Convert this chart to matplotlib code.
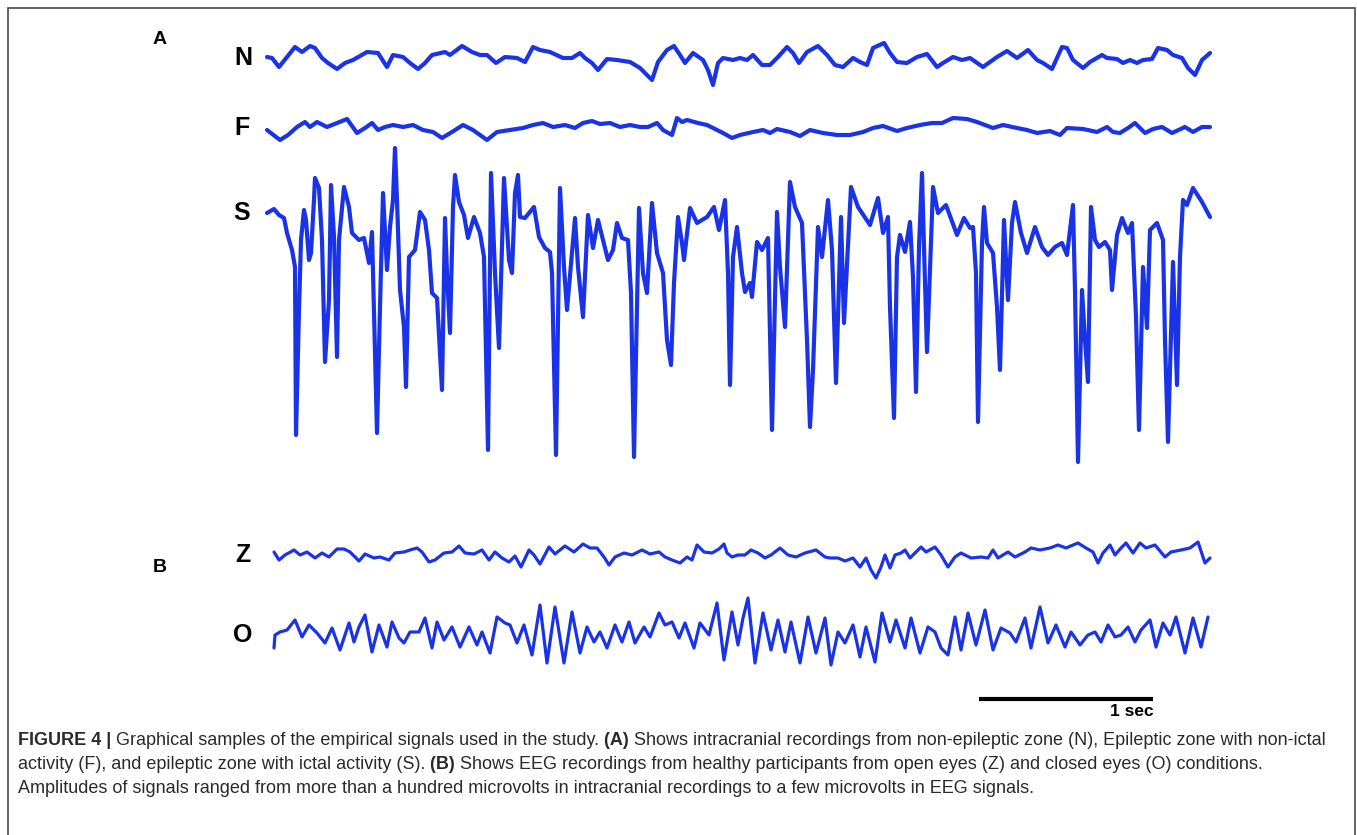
import numpy as np
import matplotlib.pyplot as plt

# Bonn EEG samples, fs = 173.61 Hz; sample index and amplitude (a.u.)
fs = 173.61

n_N = [0, 5, 12, 20, 28, 35, 43, 48, 55, 61, 70, 78, 86, 100, 111, 120, 126, 136, 143, 151,
       158, 165, 178, 183, 195, 205, 213, 220, 229, 238, 250, 258, 266, 273, 283, 296, 305, 313,
       318, 325, 331, 340, 350, 363, 373, 385, 391, 400, 407, 413, 418, 426, 436, 441, 446, 451,
       456, 466, 473, 480, 486, 495, 503, 511, 520, 526, 532, 540, 551, 560, 568, 576, 586, 593,
       600, 606, 617, 623, 630, 640, 650, 660, 670, 676, 686, 695, 703, 716, 730, 740, 750, 761,
       770, 776, 785, 795, 800, 806, 816, 823, 835, 840, 850, 856, 863, 870, 876, 885, 891, 900,
       906, 915, 921, 928, 935, 943]
a_N = [1, 0, -9, 1, 11, 6, 12, 10, 0, -5, -11, -5, -2, 6, 5, -9, 3, 1, -5, -11,
       -5, 3, 6, 3, 12, 6, 3, 3, -5, 1, 0, -4, 11, 8, 6, 0, 0, 5,
       0, -5, -12, -1, -2, -4, -10, -22, -4, 8, 12, 3, -5, 5, -2, -12, -27, -5,
       0, -2, 0, -2, 3, -7, -7, 1, 11, 5, -5, 6, 12, 3, -7, -9, 0, -4,
       -7, 10, 15, 5, -4, -5, 1, 4, -9, -5, 1, -2, 0, -9, 1, 7, 0, 8,
       -2, -5, -11, 11, 10, -2, -10, -4, 3, 0, -1, -5, -2, -5, -2, -1, 10, 8,
       3, 0, -10, -17, -2, 5]

n_F = [0, 13, 21, 30, 38, 43, 50, 60, 70, 80, 90, 98, 105, 111, 118, 126, 136, 146, 156, 166,
       175, 185, 196, 206, 220, 230, 243, 256, 266, 276, 286, 298, 308, 316, 325, 333, 343, 353,
       363, 373, 381, 390, 396, 405, 410, 415, 420, 431, 440, 450, 456, 465, 473, 486, 496, 503,
       510, 523, 533, 543, 556, 570, 583, 596, 606, 616, 630, 640, 653, 665, 675, 686, 700, 710,
       726, 736, 750, 760, 770, 783, 793, 800, 816, 830, 840, 846, 853, 861, 868, 878, 886, 895,
       905, 918, 926, 935, 943]
a_F = [-2, -12, -7, 1, 6, 1, 6, 1, 5, 9, -5, 0, 5, -2, 1, 3, 1, 3, -2, -4,
       -10, -4, 3, -2, -12, -4, -2, 0, 3, 5, 1, 3, 0, 5, 7, 4, 5, 1,
       3, 1, 1, 5, -2, -7, 10, 6, 8, 5, 3, -2, -5, -10, -7, -4, -2, -5,
       -1, -4, -8, -2, -5, -7, -7, -4, 0, 2, -3, 0, 3, 5, 5, 10, 9, 6,
       0, 3, 0, -2, -5, -3, -7, 0, -1, -4, 1, -4, -5, 0, 5, -5, -1, 1,
       -5, 1, -4, 1, 1]

n_S = [0, 7, 12, 17, 20, 25, 28, 29, 32, 34, 37, 39, 42, 44, 47, 48, 52, 55, 58, 62,
       64, 67, 70, 72, 77, 82, 85, 92, 97, 102, 105, 110, 113, 116, 120, 123, 126, 128, 130, 133,
       137, 139, 142, 148, 153, 158, 162, 165, 170, 175, 178, 180, 183, 186, 188, 192, 197, 201,
       207, 213, 217, 221, 224, 228, 232, 237, 242, 245, 248, 251, 253, 258, 267, 272, 278, 283,
       285, 289, 293, 297, 300, 305, 308, 311, 316, 321, 326, 331, 336, 341, 346, 350, 355, 361,
       364, 367, 372, 376, 380, 385, 390, 396, 400, 404, 407, 411, 415, 417, 423, 430, 440, 447,
       452, 458, 461, 463, 466, 470, 475, 478, 483, 485, 490, 495, 501, 505, 510, 513, 518, 523,
       528, 535, 540, 543, 546, 551, 555, 561, 565, 569, 574, 577, 584, 591, 603, 611, 616, 621,
       623, 627, 630, 633, 638, 643, 646, 649, 652, 655, 657, 660, 664, 666, 671, 679, 690, 697,
       703, 706, 709, 711, 715, 717, 720, 726, 730, 733, 737, 741, 745, 748, 754, 760, 768, 775,
       781, 788, 795, 800, 806, 808, 811, 815, 818, 821, 824, 828, 832, 838, 843, 845, 850, 855,
       861, 865, 869, 872, 876, 880, 883, 890, 896, 898, 901, 906, 910, 913, 916, 920, 926, 935,
       943]
a_S = [0, 4, -2, -5, -20, -37, -54, -222, -97, -27, 3, -7, -47, -40, 13, 35, 25, -27, -149, -87,
       28, -24, -144, -27, 26, 6, -20, -27, -25, -50, -19, -220, -94, 20, -57, -14, 13, 65, 13, -77,
       -114, -174, -44, -37, 1, -7, -37, -80, -85, -177, -5, -60, -120, 6, 38, 11, -2, -25,
       -4, -20, -44, -237, 40, -60, -135, 35, -47, -60, 20, 38, -4, -5, 6, -24, -35, -39,
       -60, -242, 25, -54, -97, -40, -5, -54, -104, -2, -35, -7, -27, -47, -37, -10, -25, -27,
       -80, -244, 5, -60, -80, 10, -40, -60, -127, -152, -70, -4, -30, -47, 5, -10, -4, 6,
       -17, 13, -60, -172, -44, -14, -60, -79, -70, -84, -29, -37, -25, -217, 1, -54, -114, 31,
       6, -10, -127, -214, -157, -14, -44, 13, -37, -170, -4, -110, 26, 6, -12, 15, -20, -4,
       -94, -205, -44, -22, -39, -9, -64, -179, -34, 40, -34, -139, -27, 26, 0, 8, -22, -5,
       -15, -14, -60, -209, -30, 6, -30, -40, -94, -157, -7, -87, -10, 11, -20, -40, -14, -34,
       -42, -34, -30, -42, 8, -77, -249, -77, -127, -169, 6, -27, -34, -29, -37, -77, -22, -5,
       -20, -10, -104, -217, -54, -115, -17, -10, -27, -127, -229, -49, -172, -44, 13, 8, 25, 11,
       -4]

n_Z = [7, 12, 18, 27, 33, 40, 48, 55, 62, 70, 77, 83, 92, 98, 107, 113, 122, 128, 137, 143,
       150, 155, 162, 168, 177, 185, 192, 198, 207, 215, 222, 228, 235, 242, 248, 254, 262, 267,
       273, 282, 288, 298, 307, 316, 323, 330, 337, 342, 348, 357, 365, 375, 383, 392, 398, 405,
       413, 420, 425, 430, 437, 445, 452, 457, 460, 465, 471, 478, 484, 491, 498, 504, 513, 521,
       529, 538, 549, 558, 563, 571, 578, 586, 593, 599, 604, 609, 614, 618, 623, 628, 634, 638,
       643, 648, 654, 659, 668, 674, 681, 688, 694, 704, 714, 721, 726, 731, 741, 748, 758, 764,
       773, 783, 791, 799, 806, 811, 819, 826, 831, 836, 843, 848, 854, 859, 866, 873, 879, 888,
       898, 904, 914, 923, 931, 938, 943]
a_Z = [3, -5, 0, 5, 0, 3, -3, 2, -2, 6, 6, 3, -6, 1, -3, -2, -5, 2, 3, 5,
       7, 3, -7, -5, 2, 3, 9, 2, 1, 5, -5, 3, -3, -7, -1, -12, 5, 0,
       -9, 8, 1, 9, 3, 11, 7, 7, -2, -10, -2, 2, 0, 5, 1, 3, -2, -5,
       -8, -2, -5, 10, 3, 2, 6, 11, 2, -2, 0, 0, 5, 2, -3, 0, 7, 0,
       -2, 2, 5, -2, -3, -3, -6, -3, -12, -3, -15, -23, -12, 0, -13, 0, 2, 5,
       -3, 2, 8, 3, 8, 0, -12, -2, 2, -3, -2, -3, 5, -3, 3, -2, 3, 7,
       5, 7, 10, 7, 10, 12, 7, 3, -8, 2, 10, 0, 7, 12, 2, 12, 7, 10,
       -2, 3, 5, 7, 13, -8, -3]

n_O = [7, 8, 13, 20, 28, 35, 42, 50, 58, 65, 73, 82, 87, 92, 98, 105, 112, 120, 125, 132,
       137, 143, 152, 158, 165, 170, 177, 185, 193, 202, 210, 215, 223, 230, 238, 243, 250, 257,
       265, 273, 280, 288, 297, 305, 313, 320, 327, 333, 340, 348, 355, 362, 368, 377, 383, 392,
       398, 405, 412, 418, 427, 433, 442, 450, 457, 465, 471, 476, 481, 488, 496, 504, 511, 518,
       524, 533, 541, 549, 558, 564, 571, 578, 586, 593, 599, 608, 615, 623, 629, 638, 644, 653,
       661, 668, 674, 681, 688, 694, 701, 709, 718, 726, 734, 743, 749, 758, 764, 773, 781, 789,
       798, 804, 813, 821, 828, 834, 841, 848, 854, 861, 868, 874, 883, 889, 896, 903, 909, 918,
       926, 934, 941]
a_O = [-13, 0, 3, 5, 15, -2, 10, 2, -8, 7, -15, 12, -7, 8, 20, -17, 10, -12, 13, -3,
       -8, 3, 3, 17, -13, 13, -5, 8, -12, 8, -10, 3, -18, 18, 12, 10, -8, 10,
       -20, 30, -28, 28, -28, 23, -18, 8, -7, 3, -13, 10, -7, 13, -8, 8, -2, 22,
       10, 13, -3, 12, -13, 12, 0, 32, -25, 23, -10, 17, 37, -28, 22, -15, 15, -17,
       13, -28, 18, -18, 17, -30, 3, -8, 10, -22, 8, -27, 22, -7, 15, -13, 17, -18,
       8, 3, -13, -20, 18, -15, 22, -10, 25, -15, 7, 2, -7, 17, -13, 28, -8, 10,
       -12, 3, -10, 0, 3, -7, 10, -2, 0, 8, -7, 5, 15, -12, 12, 0, 18, -18,
       17, -12, 18]

labels = ["N", "F", "S", "Z", "O"]
traces = [(n_N, a_N), (n_F, a_F), (n_S, a_S), (n_Z, a_Z), (n_O, a_O)]

# layout (figure pixels)
W, H = 1357, 835
x0 = 267                         # pixel where sample 0 sits
baselines = [58, 128, 213, 555, 635]
widths = [3.0, 3.0, 3.0, 2.3, 2.3]
label_x = [243, 242, 242, 243, 243]
blue = "#1a33e6"

plt.rcParams["font.family"] = ["Liberation Sans", "DejaVu Sans"]

fig = plt.figure(figsize=(W / 100, H / 100), dpi=100)
ax = fig.add_axes([0, 0, 1, 1])
ax.set_xlim(-x0 / fs, (W - x0) / fs)
ax.set_ylim(H, 0)
ax.axis("off")

for (n, a), base, lw in zip(traces, baselines, widths):
    t = np.array(n) / fs
    ax.plot(t, base - np.array(a), color=blue, lw=lw,
            solid_joinstyle="round", solid_capstyle="round")

for lab, base, lx in zip(labels, baselines, label_x):
    fig.text(lx / W, 1 - base / H, lab, fontsize=18, weight="bold",
             ha="center", va="center")

fig.text(160 / W, 1 - 40 / H, "A", fontsize=14, weight="bold", ha="center", va="center")
fig.text(160 / W, 1 - 568 / H, "B", fontsize=14, weight="bold", ha="center", va="center")

# 1 sec scale bar
bar_start = (979 - x0) / fs
ax.plot([bar_start, bar_start + 1.0], [699, 699], color="black", lw=3, solid_capstyle="butt")
fig.text(1154 / W, 1 - 712 / H, "1 sec", fontsize=12.5, weight="bold", ha="right", va="center")

# frame
fig.add_artist(plt.Rectangle((8 / W, -0.02), (1355 - 8) / W, 1 - 8 / H + 0.02,
                             transform=fig.transFigure, fill=False, ec="#4a4a4a", lw=1.2))

# caption with bold runs
cap_lines = [
    [("FIGURE 4 |", True), (" Graphical samples of the empirical signals used in the study.", False),
     (" (A)", True), (" Shows intracranial recordings from non-epileptic zone (N), Epileptic zone with non-ictal", False)],
    [("activity (F), and epileptic zone with ictal activity (S).", False), (" (B)", True),
     (" Shows EEG recordings from healthy participants from open eyes (Z) and closed eyes (O) conditions.", False)],
    [("Amplitudes of signals ranged from more than a hundred microvolts in intracranial recordings to a few microvolts in EEG signals.", False)],
]
cap_y = [745, 769, 793]
renderer = fig.canvas.get_renderer()
for runs, yb in zip(cap_lines, cap_y):
    xp = 18
    for txt, bold in runs:
        tx = fig.text(xp / W, 1 - yb / H, txt, fontsize=13.0, color="#2a2a2a",
                      weight="bold" if bold else "normal", ha="left", va="baseline")
        xp += tx.get_window_extent(renderer).width

fig.savefig("out.png", dpi=100, facecolor="white")
